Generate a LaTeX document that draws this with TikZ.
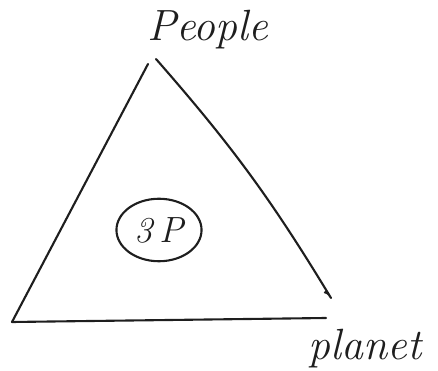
\documentclass[tikz,border=0pt]{standalone}
\usepackage{tikz}
\usetikzlibrary{positioning,shapes.geometric}
\definecolor{cInk}{HTML}{1E1E1E}
\tikzset{
  side/.style   = {draw=cInk, line width=1.2pt, line cap=round, line join=round},
  lbl/.style    = {font=\Huge\itshape, text=cInk, inner sep=1pt},
  hub/.style    = {ellipse, draw=cInk, line width=1.2pt, minimum width=16mm,
                   minimum height=12.5mm, font=\huge\itshape, text=cInk},
}

\begin{document}
\begin{tikzpicture}
      \useasboundingbox (0,0) rectangle (8.76,7.4);
      % ---- corners of the triangle ----
      \coordinate (topL) at (2.96,6.12);
      \coordinate (topR) at (3.12,6.22);
      \coordinate (botL) at (0.24,0.96);
      \coordinate (botR) at (6.52,1.04);
      \coordinate (rEnd) at (6.62,1.44);

      % ---- labels ----
      \node[lbl] (people) at (4.15,6.8) {People};
      \node[lbl] (planet) at (7.3,0.42) {planet};
      \node[hub] (hub) at (3.18,2.8) {3\,P};

      % ---- sides ----
      \draw[side] (topL) -- (botL);
      \draw[side] (botL) -- (botR);
      \draw[side] (topR) to[bend left=5] (rEnd)
        .. controls (6.52,1.62) and (6.46,1.52) .. (6.52,1.56);
    \end{tikzpicture}
\end{document}
